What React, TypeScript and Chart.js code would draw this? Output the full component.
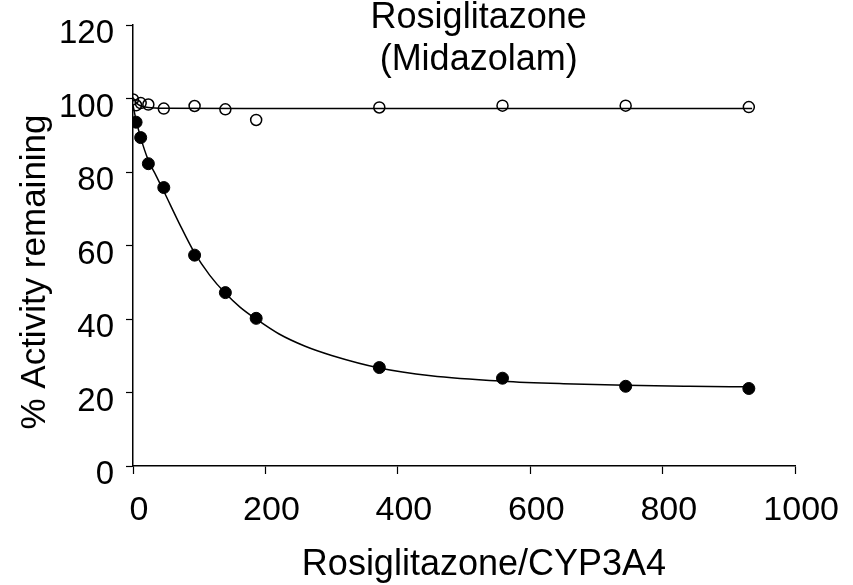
import React, { useEffect, useRef } from "react";
import { Chart, registerables } from "chart.js";

Chart.register(...registerables);

// Open circles: activity with the inhibitor absent (control)
const ratioOpen = [0, 4.65, 11.6, 23.2, 46.5, 93, 139.5, 186, 372, 558, 744, 930];
const activityOpen = [99.8, 98.2, 98.8, 98.4, 97.3, 98.0, 97.1, 94.2, 97.6, 98.1, 98.1, 97.7];

// Filled circles: activity remaining after preincubation
const ratioFilled = [4.65, 11.6, 23.2, 46.5, 93, 139.5, 186, 372, 558, 744, 930];
const activityFilled = [93.6, 89.4, 82.3, 75.8, 57.4, 47.2, 40.2, 26.8, 23.9, 21.7, 21.1];

// Fitted curves
const fitOpenX = [0, 5, 12, 23, 46.5, 200, 500, 935];
const fitOpenY = [100.3, 98.9, 98.0, 97.6, 97.4, 97.35, 97.35, 97.35];
const fitFilledX = [0, 4.65, 11.6, 23.2, 35, 46.5, 70, 93, 116, 139.5, 162, 186, 220, 260, 300, 372, 450, 558, 650, 744, 840, 930];
const fitFilledY = [98.2, 94.2, 89.4, 83.2, 79.0, 74.8, 66.0, 58.0, 51.9, 47.0, 43.2, 40.0, 36.0, 32.6, 30.1, 26.7, 24.6, 23.1, 22.4, 21.95, 21.7, 21.55];

const xTicks = [0, 200, 400, 600, 800, 1000];
const yTicks = [0, 20, 40, 60, 80, 100, 120];

const titleLines = ["Rosiglitazone", "(Midazolam)"];
const xTitle = "Rosiglitazone/CYP3A4";
const yTitle = "% Activity remaining";

const FONT = "'Liberation Sans', Arial, sans-serif";

const toPoints = (xs: number[], ys: number[]) => xs.map((x, i) => ({ x, y: ys[i] }));

const textPlugin = {
  id: "figureText",
  afterDraw(chart: any) {
    const { ctx, chartArea } = chart;
    const w = chartArea.right - chartArea.left;
    ctx.save();
    ctx.fillStyle = "#000";
    ctx.textAlign = "center";
    ctx.textBaseline = "alphabetic";
    ctx.font = `36px ${FONT}`;
    const cx = chartArea.left + w * 0.522;
    ctx.fillText(titleLines[0], cx, 28);
    ctx.fillText(titleLines[1], cx, 70);

    ctx.font = `36px ${FONT}`;
    ctx.textBaseline = "middle";
    ctx.fillText(xTitle, chartArea.left + w * 0.53, 565);

    ctx.translate(35, 272);
    ctx.rotate(-Math.PI / 2);
    ctx.font = `35px ${FONT}`;
    ctx.fillText(yTitle, 0, 0);
    ctx.restore();
  },
};

export default function App() {
  const canvasRef = useRef<HTMLCanvasElement | null>(null);

  useEffect(() => {
    if (!canvasRef.current) return;
    const chart = new Chart(canvasRef.current, {
      type: "scatter",
      data: {
        datasets: [
          {
            label: "fit control",
            data: toPoints(fitOpenX, fitOpenY),
            showLine: true,
            borderColor: "#000",
            borderWidth: 1.5,
            pointRadius: 0,
            cubicInterpolationMode: "monotone",
          },
          {
            label: "fit inactivation",
            data: toPoints(fitFilledX, fitFilledY),
            showLine: true,
            borderColor: "#000",
            borderWidth: 1.5,
            pointRadius: 0,
            cubicInterpolationMode: "monotone",
          },
          {
            label: "control",
            data: toPoints(ratioOpen, activityOpen),
            showLine: false,
            pointRadius: 5.5,
            pointBorderWidth: 1.5,
            pointBorderColor: "#000",
            pointBackgroundColor: "rgba(255,255,255,0)",
          },
          {
            label: "inactivation",
            data: toPoints(ratioFilled, activityFilled),
            showLine: false,
            pointRadius: 6,
            pointBorderWidth: 1,
            pointBorderColor: "#000",
            pointBackgroundColor: "#000",
          },
        ],
      },
      options: {
        responsive: false,
        animation: false,
        layout: { padding: { top: 17, right: 55, left: 0, bottom: 0 } },
        plugins: {
          legend: { display: false },
          tooltip: { enabled: false },
          title: { display: false },
        },
        scales: {
          x: {
            type: "linear",
            min: xTicks[0],
            max: xTicks[xTicks.length - 1],
            afterBuildTicks: (scale: any) => {
              scale.ticks = xTicks.map((v) => ({ value: v }));
            },
            afterFit: (scale: any) => {
              scale.height = 119;
            },
            ticks: {
              color: "#000",
              font: { family: FONT, size: 34, lineHeight: 1 },
              padding: 20,
              labelOffset: 6,
              maxRotation: 0,
              callback: (v: any) => String(v),
            },
            grid: {
              drawOnChartArea: false,
              drawTicks: true,
              tickLength: 8,
              color: "#000",
              tickWidth: 1.2,
            },
            border: { color: "#000", width: 1.5 },
          },
          y: {
            type: "linear",
            min: yTicks[0],
            max: yTicks[yTicks.length - 1],
            afterBuildTicks: (scale: any) => {
              scale.ticks = yTicks.map((v) => ({ value: v }));
            },
            afterFit: (scale: any) => {
              scale.width = 133;
            },
            ticks: {
              color: "#000",
              font: { family: FONT, size: 33, lineHeight: 0.8 },
              padding: 12,
              labelOffset: 9,
              callback: (v: any) => String(v),
            },
            grid: {
              drawOnChartArea: false,
              drawTicks: true,
              tickLength: 7,
              color: "#000",
              tickWidth: 1.2,
            },
            border: { color: "#000", width: 1.5 },
          },
        },
      },
      plugins: [textPlugin],
    });
    return () => chart.destroy();
  }, []);

  return (
    <div style={{ position: "absolute", left: 0, top: 0, width: 853, height: 585, background: "#fff" }}>
      <canvas ref={canvasRef} width={853} height={585} style={{ display: "block" }} />
    </div>
  );
}
